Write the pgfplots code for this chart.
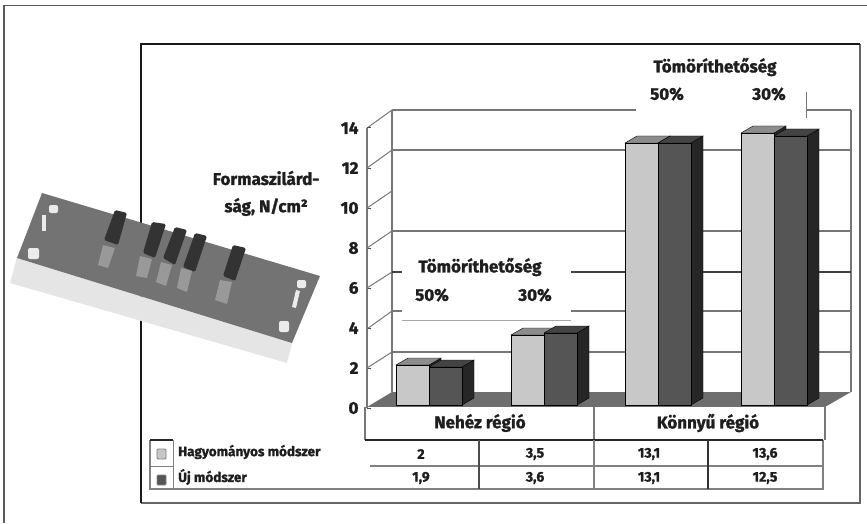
\documentclass[border=0pt]{standalone}
\usepackage{fontspec}
\setmainfont{Fira Sans}[BoldFeatures={FakeBold=1.3}]
\usepackage{pgfplots}
\pgfplotsset{compat=1.18}
\usepackage{pgfplotstable}

\definecolor{lightbar}{HTML}{C8C8C8}
\definecolor{lighttop}{HTML}{8C8C8C}
\definecolor{darkbar}{HTML}{555555}
\definecolor{darktop}{HTML}{444444}
\definecolor{sidebar}{HTML}{262626}
\definecolor{floorc}{HTML}{6E6E6E}
\definecolor{gridc}{HTML}{777777}
\definecolor{ink}{HTML}{1E1E1E}

% x = boundary between the two bars in picture px, y = value
\pgfplotstableread{
x    y
429  2
544  3.5
658  13.1
774  13.6
}\hagyomanyos
\pgfplotstableread{
x    y
429  1.9
544  3.6
658  13.1
774  13.45
}\ujmodszer

% depth faces of one bar: left edge, value, top colour, side colour
\newcommand{\barfaces}[4]{%
  \pgfmathsetmacro{\xa}{#1}
  \pgfmathsetmacro{\xb}{#1+33}
  \pgfmathsetmacro{\xc}{#1+45}
  \pgfmathsetmacro{\xd}{#1+12}
  \pgfmathsetmacro{\yt}{#2+0.35}
  \addplot[fill=#4,draw=black,line width=.4pt,forget plot] coordinates {(\xb,0) (\xc,0.35) (\xc,\yt) (\xb,#2)} --cycle;
  \addplot[fill=#3,draw=black,line width=.4pt,forget plot] coordinates {(\xa,#2) (\xb,#2) (\xc,\yt) (\xd,\yt)} --cycle;
}

\newcommand{\lblfont}{\bfseries\fontsize{17}{19}\selectfont\color{ink}}
\newcommand{\legfont}{\bfseries\fontsize{13.5}{15}\selectfont\color{ink}}
\newcommand{\tblfont}{\bfseries\fontsize{14}{16}\selectfont\color{ink}}

\begin{document}
\begin{tikzpicture}
\path[use as bounding box] (0,0) rectangle (867pt,523pt);

% everything that is not data, in picture pixels
\begin{scope}[shift={(0pt,523pt)},x=1pt,y=-1pt]
  % outer and inner frame
  \draw[gray!70!black,line width=1.4pt] (4,523) -- (4,5.5) -- (867,5.5);
  \draw[black!60,line width=1.8pt] (860,44) -- (860,503) -- (141,503);
  \draw[black!90,line width=2.6pt] (141,503) -- (141,44) -- (860,44);
  % side wall and floor
  \fill[floorc] (367,407) -- (392,392) -- (851,392) -- (825,407) -- cycle;
  \draw[gridc,line width=1.2pt] (392,110) -- (392,392);
  \draw[gridc,line width=1.2pt] (851,110) -- (851,392);
  \foreach \y/\f in {110/128,150/168,191/208,231/248,272/288,311/329,352/368}
    \draw[gridc,line width=1pt] (367,\f) -- (392,\y);
  % back wall lines
  \foreach \y in {110,150,231,311,352}
    \draw[gridc,line width=1.4pt] (392,\y) -- (851,\y);
  \draw[black!75,line width=1.8pt] (392,272) -- (851,272);
  % category box
  \fill[white] (367,407) rectangle (825,440);
  \draw[gridc,line width=1.2pt] (365,407) -- (365,440);
  \draw[gridc,line width=1.2pt] (594,407) -- (594,440);
  \draw[gridc,line width=1.2pt] (825,407) -- (825,440);
  % data table
  \draw[gray,line width=1.4pt] (150,440) -- (150,489) -- (823,489) -- (823,440);
  \draw[black!85,line width=1.2pt] (173,440) -- (150,440);
  \draw[black!85,line width=1.6pt] (365,440) -- (823,440);
  \draw[gray,line width=1.8pt] (370,466) -- (823,466);
  \draw[gray,line width=1pt] (150,466) -- (173,466);
  \draw[gray,line width=1pt] (173,440) -- (173,489);
  \draw[black!70,line width=1.1pt] (479,440) -- (479,489);
  \draw[gray,line width=1.1pt] (594,440) -- (594,489);
  \draw[black!80,line width=1.1pt] (708,440) -- (708,489);
  \fill[lightbar,draw=gray,rounded corners=1pt,line width=.8pt] (157,449) rectangle (166,459);
  \fill[darkbar,draw=gray,rounded corners=1pt,line width=.8pt] (157,475) rectangle (166,485);
\end{scope}

% bars
\begin{axis}[
  at={(0,0)},anchor=south west,
  width=867pt,height=523pt,scale only axis,
  xmin=0,xmax=867,ymin=-5.9,ymax=20.25,
  hide axis,clip=false]
\barfaces{396}{2}{lighttop}{sidebar}
\addplot[ybar,bar width=33pt,bar shift=-16.5pt,fill=lightbar,draw=black,line width=.4pt] table[x=x,y=y] {\hagyomanyos};
\barfaces{429}{1.9}{darktop}{sidebar}
\barfaces{511}{3.5}{lighttop}{sidebar}
\barfaces{544}{3.6}{darktop}{sidebar}
\barfaces{625}{13.1}{lighttop}{sidebar}
\barfaces{658}{13.1}{darktop}{sidebar}
\barfaces{741}{13.6}{lighttop}{sidebar}
\barfaces{774}{13.45}{darktop}{sidebar}
\addplot[ybar,bar width=33pt,bar shift=-16.5pt,fill=lightbar,draw=black,line width=.4pt] table[x=x,y=y] {\hagyomanyos};
\addplot[ybar,bar width=33pt,bar shift=16.5pt,fill=darkbar,draw=black,line width=.4pt] table[x=x,y=y] {\ujmodszer};
\end{axis}

% value axis
\begin{axis}[
  at={(367pt,115pt)},anchor=south west,
  width=458pt,height=280pt,scale only axis,
  xmin=0,xmax=1,ymin=0,ymax=14,
  ytick={0,2,...,14},xtick=\empty,
  axis y line*=left,axis x line=none,
  y axis line style={draw=gridc,line width=1.2pt},
  tick style={draw=black!70,line width=1pt},
  major tick length=4pt,
  /pgf/number format/assume math mode=true,
  yticklabel style={font=\bfseries\fontsize{17}{17}\selectfont,text=ink,xshift=-5pt}]
\end{axis}

\begin{scope}[shift={(0pt,523pt)},x=1pt,y=-1pt]
  % mould plate picture
  \fill[black!10] (17,258) -- (292,343) -- (287,363) -- (10,283) -- cycle;
  \fill[black!55] (42,193) -- (320,276) -- (292,343) -- (17,258) -- cycle;
  \foreach \a/\b/\c/\d/\e/\f/\g/\h in {
    115/210/127/213/118/245/104/240,
    152/222/166/224/155/258/143/253,
    175/227/187/230/175/265/163/258,
    195/233/207/236/195/272/183/267,
    233/245/246/248/235/281/223/276}
    \fill[black!80,rounded corners=1.5pt] (\a,\b) -- (\c,\d) -- (\e,\f) -- (\g,\h) -- cycle;
  \foreach \a/\b/\c/\d/\e/\f/\g/\h in {
    103/245/115/248/108/268/98/265,
    140/256/152/259/147/278/136/276,
    161/262/172/265/166/286/156/282,
    181/268/192/271/187/292/177/288,
    220/280/232/282/227/304/215/300}
    \fill[black!40] (\a,\b) -- (\c,\d) -- (\e,\f) -- (\g,\h) -- cycle;
  \fill[black!8,rounded corners=2pt] (28,248) rectangle (39,259);
  \fill[black!8,rounded corners=2pt] (49,205) rectangle (58,213);
  \fill[black!8] (42,215) rectangle (46,231);
  \fill[black!8,rounded corners=2pt] (279,321) rectangle (289,332);
  \fill[black!8,rounded corners=2pt] (297,280) rectangle (306,288);
  \fill[black!8] (296,290) -- (300,291) -- (296,308) -- (292,307) -- cycle;

  % label boxes over the wall
  \fill[white] (402,253) rectangle (571,320);
  \draw[black!35,line width=.7pt] (402,320.5) -- (571,320.5);
  \fill[white] (636,46) rectangle (806,120);
  \draw[gridc,line width=1.2pt] (806.5,92) -- (806.5,118);

  \node[font=\lblfont] at (266,178) {Formaszilárd-};
  \node[font=\lblfont] at (266,207) {ság, N/cm²};
  \node[font=\lblfont] at (480,267) {Tömöríthetőség};
  \node[font=\lblfont] at (432,295) {50\%};
  \node[font=\lblfont] at (535,295) {30\%};
  \node[font=\lblfont] at (715,67) {Tömöríthetőség};
  \node[font=\lblfont] at (667,94) {50\%};
  \node[font=\lblfont] at (769,94) {30\%};
  \node[font=\lblfont] at (480,423) {Nehéz régió};
  \node[font=\lblfont] at (708,423) {Könnyű régió};

  \node[font=\legfont,anchor=west,inner sep=0pt] at (178,452) {Hagyományos módszer};
  \node[font=\legfont,anchor=west,inner sep=0pt] at (178,477) {Új módszer};
  \foreach \x/\a/\b in {421/2/{1,9},535/{3,5}/{3,6},649/{13,1}/{13,1},765/{13,6}/{12,5}} {
    \node[font=\tblfont] at (\x,454) {\a};
    \node[font=\tblfont] at (\x,478) {\b};
  }
\end{scope}
\end{tikzpicture}
\end{document}
